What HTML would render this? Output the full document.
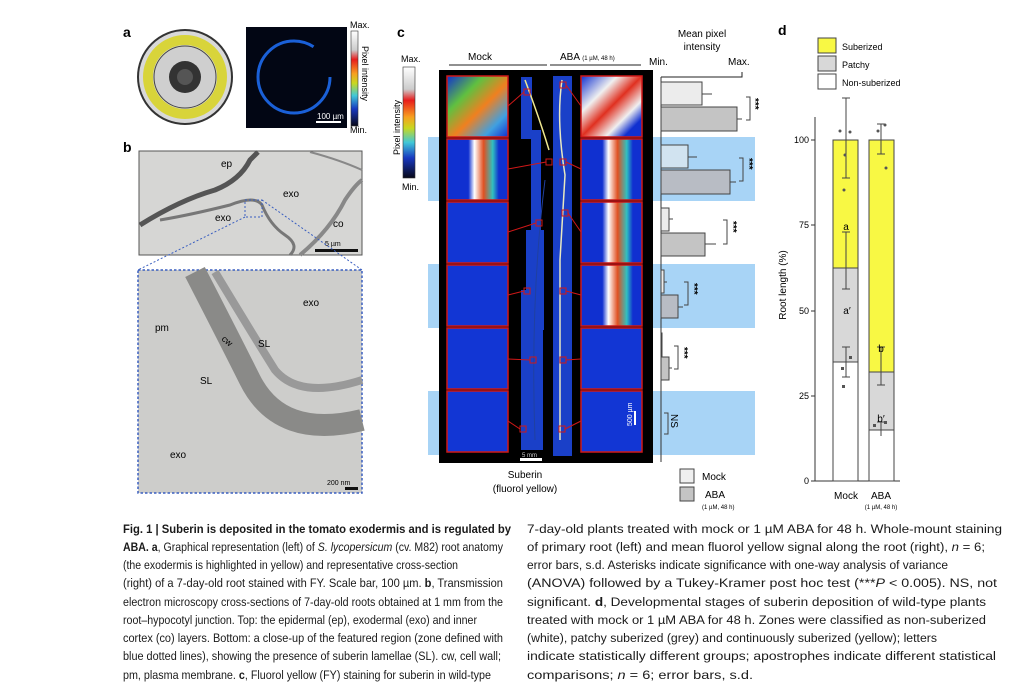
<!DOCTYPE html>
<html><head><meta charset="utf-8"><style>
html,body{margin:0;padding:0;background:#fff;}
svg{display:block;font-family:"Liberation Sans",sans-serif;}
</style></head><body>
<svg width="1024" height="699" viewBox="0 0 1024 699" xmlns="http://www.w3.org/2000/svg">
<defs>
<linearGradient id="cb" x1="0" y1="0" x2="0" y2="1">
<stop offset="0" stop-color="#fff"/><stop offset="0.2" stop-color="#ccc"/><stop offset="0.3" stop-color="#e81c1c"/><stop offset="0.45" stop-color="#f7a020"/><stop offset="0.55" stop-color="#c8d820"/><stop offset="0.68" stop-color="#40c8d8"/><stop offset="0.82" stop-color="#1838c0"/><stop offset="1" stop-color="#080818"/>
</linearGradient>
<linearGradient id="g0" x1="0" y1="0" x2="1" y2="1"><stop offset="0" stop-color="#1030d0"/><stop offset="0.3" stop-color="#60c040"/><stop offset="0.55" stop-color="#f08020"/><stop offset="0.8" stop-color="#40a0e0"/><stop offset="1" stop-color="#1030d0"/></linearGradient>
<linearGradient id="g1" x1="0" y1="0" x2="1" y2="0"><stop offset="0" stop-color="#1030d0"/><stop offset="0.35" stop-color="#1030d0"/><stop offset="0.45" stop-color="#fff"/><stop offset="0.6" stop-color="#e05020"/><stop offset="0.75" stop-color="#30c0c0"/><stop offset="0.85" stop-color="#1030d0"/></linearGradient>
<linearGradient id="g2" x1="0" y1="0" x2="1" y2="1"><stop offset="0" stop-color="#1030d0"/><stop offset="0.3" stop-color="#f0f0f0"/><stop offset="0.5" stop-color="#e03020"/><stop offset="0.7" stop-color="#f0f0f0"/><stop offset="0.85" stop-color="#1030d0"/></linearGradient>
</defs>

<!-- panel a -->
<text x="123" y="37" font-size="14" font-weight="bold">a</text>
<circle cx="185" cy="77" r="47" fill="#d8d8d8" stroke="#333" stroke-width="2"/>
<circle cx="185" cy="77" r="37" fill="none" stroke="#d8d43a" stroke-width="10"/>
<circle cx="185" cy="77" r="31" fill="#cfcfcf" stroke="#444"/>
<circle cx="185" cy="77" r="16" fill="#333"/>
<circle cx="185" cy="77" r="8" fill="#555"/>
<rect x="246" y="27" width="101" height="101" fill="#020614"/>
<ellipse cx="294" cy="77" rx="36" ry="36" fill="none" stroke="#1a60d8" stroke-width="3" stroke-dasharray="190 36"/>
<rect x="316" y="121" width="25" height="2" fill="#fff"/>
<text x="317" y="119" font-size="8" fill="#fff">100 µm</text>
<rect x="351" y="31" width="7" height="95" fill="url(#cb)" stroke="#333" stroke-width="0.6"/>
<text x="350" y="28" font-size="9">Max.</text>
<text x="350" y="133" font-size="9">Min.</text>
<text transform="translate(362,46) rotate(90)" font-size="9">Pixel intensity</text>

<!-- panel b -->
<text x="123" y="152" font-size="14" font-weight="bold">b</text>
<rect x="139" y="151" width="223" height="104" fill="#d6d6d4" stroke="#555"/>
<path d="M140 225 Q180 200 215 190 Q240 180 250 160 L258 152" stroke="#555" stroke-width="5" fill="none"/>
<path d="M160 220 Q190 215 230 205 Q255 195 262 205 Q270 225 285 235 Q300 245 290 255" stroke="#777" stroke-width="3" fill="none"/>
<path d="M300 255 Q330 230 345 200 Q355 185 362 180" stroke="#888" stroke-width="4" fill="none"/>
<path d="M310 152 Q340 160 362 170" stroke="#888" stroke-width="2" fill="none"/>
<text x="221" y="167" font-size="10">ep</text>
<text x="283" y="197" font-size="10">exo</text>
<text x="215" y="221" font-size="10">exo</text>
<text x="333" y="227" font-size="10">co</text>
<rect x="315" y="249" width="43" height="3" fill="#111"/>
<text x="325" y="246" font-size="7">5 µm</text>
<rect x="245" y="200" width="17" height="17" fill="none" stroke="#3a5fc0" stroke-dasharray="2 2"/>
<line x1="262" y1="200" x2="362" y2="270" stroke="#3a5fc0" stroke-dasharray="2 2"/>
<line x1="245" y1="217" x2="138" y2="270" stroke="#3a5fc0" stroke-dasharray="2 2"/>
<rect x="138" y="270" width="224" height="223" fill="#cdcdcb" stroke="#3a5fc0" stroke-dasharray="2.5 2" stroke-width="1.5"/>
<path d="M195 272 Q230 340 250 380 Q280 440 362 420" stroke="#8a8a88" stroke-width="22" fill="none"/>
<path d="M215 272 Q250 330 275 370 Q300 400 362 380" stroke="#999" stroke-width="8" fill="none"/>
<text x="155" y="331" font-size="10">pm</text>
<text x="222" y="343" font-size="9" transform="rotate(40 226 340)">cw</text>
<text x="258" y="347" font-size="10">SL</text>
<text x="200" y="384" font-size="10">SL</text>
<text x="303" y="306" font-size="10">exo</text>
<text x="170" y="458" font-size="10">exo</text>
<text x="327" y="485" font-size="7">200 nm</text>
<rect x="345" y="487" width="13" height="3" fill="#111"/>

<!-- panel c -->
<text x="397" y="37" font-size="14" font-weight="bold">c</text>
<rect x="403" y="67" width="12" height="111" fill="url(#cb)" stroke="#333" stroke-width="0.6"/>
<text x="401" y="62" font-size="9">Max.</text>
<text x="402" y="190" font-size="9">Min.</text>
<text transform="translate(400,155) rotate(-90)" font-size="9">Pixel intensity</text>
<rect x="428" y="137" width="327" height="64" fill="#a8d4f6"/>
<rect x="428" y="264" width="327" height="64" fill="#a8d4f6"/>
<rect x="428" y="391" width="327" height="64" fill="#a8d4f6"/>
<text x="480" y="60" font-size="10" text-anchor="middle">Mock</text>
<line x1="449" y1="65" x2="547" y2="65" stroke="#222"/>
<text x="560" y="60" font-size="10">ABA <tspan font-size="6">(1 µM, 48 h)</tspan></text>
<line x1="550" y1="65" x2="641" y2="65" stroke="#222"/>
<rect x="439" y="70" width="214" height="393" fill="#000"/>
<rect x="521" y="77" width="11" height="62" fill="#1a40c8"/>
<rect x="531" y="130" width="10" height="110" fill="#1a40c8"/>
<rect x="526" y="230" width="18" height="100" fill="#1a40c8"/>
<rect x="521" y="290" width="22" height="160" fill="#1a40c8"/>
<rect x="553" y="76" width="19" height="380" fill="#1a40c8"/>
<path d="M525 80 Q540 120 549 150" stroke="#f0e890" stroke-width="1.5" fill="none"/>
<path d="M562 80 Q556 120 565 175 L560 260 L560 440" stroke="#e8e8c0" stroke-width="1.5" fill="none"/>
<path d="M545 180 Q530 300 535 440" stroke="#2040a0" stroke-width="1" fill="none"/>
<g stroke="#d01818" stroke-width="1.5">
<rect x="447" y="76" width="61" height="61" fill="url(#g0)"/>
<rect x="447" y="139" width="61" height="61" fill="url(#g1)"/>
<rect x="447" y="202" width="61" height="61" fill="#1236d4"/>
<rect x="447" y="265" width="61" height="61" fill="#1236d4"/>
<rect x="447" y="328" width="61" height="61" fill="#1236d4"/>
<rect x="447" y="391" width="61" height="61" fill="#1236d4"/>
<rect x="581" y="76" width="61" height="61" fill="url(#g2)"/>
<rect x="581" y="139" width="61" height="61" fill="url(#g1)"/>
<rect x="581" y="202" width="61" height="61" fill="url(#g1)"/>
<rect x="581" y="265" width="61" height="61" fill="url(#g1)"/>
<rect x="581" y="328" width="61" height="61" fill="#1236d4"/>
<rect x="581" y="391" width="61" height="61" fill="#1236d4"/>
<g fill="none" stroke-width="1">
<rect x="524" y="89" width="6" height="6"/><rect x="546" y="159" width="6" height="6"/><rect x="536" y="220" width="6" height="6"/><rect x="524" y="288" width="6" height="6"/><rect x="530" y="357" width="6" height="6"/><rect x="520" y="426" width="6" height="6"/>
<rect x="560" y="82" width="6" height="6"/><rect x="560" y="159" width="6" height="6"/><rect x="562" y="210" width="6" height="6"/><rect x="560" y="288" width="6" height="6"/><rect x="560" y="357" width="6" height="6"/><rect x="559" y="426" width="6" height="6"/>
<path d="M508 106 L524 92 M508 169 L546 162 M508 232 L536 223 M508 295 L524 291 M508 359 L530 360 M508 421 L520 429"/>
<path d="M566 85 L581 106 M566 162 L581 169 M568 213 L581 232 M566 291 L581 295 M566 360 L581 359 M565 429 L581 421"/>
</g></g>
<rect x="634" y="411" width="2" height="14" fill="#fff"/>
<text transform="translate(632,426) rotate(-90)" font-size="7" fill="#fff">500 µm</text>
<rect x="520" y="458" width="22" height="3" fill="#fff"/>
<text x="522" y="457" font-size="6" fill="#ccc">5 mm</text>
<text x="525" y="478" font-size="10" text-anchor="middle">Suberin</text>
<text x="525" y="492" font-size="10" text-anchor="middle">(fluorol yellow)</text>
<text x="702" y="37" font-size="10" text-anchor="middle">Mean pixel</text>
<text x="702" y="50" font-size="10" text-anchor="middle">intensity</text>
<text x="649" y="65" font-size="10">Min.</text>
<text x="728" y="65" font-size="10">Max.</text>
<path d="M661 77 L742 77 L742 72" stroke="#222" fill="none"/>
<line x1="661" y1="77" x2="661" y2="462" stroke="#333"/>
<g stroke="#444" stroke-width="1">
<rect x="661" y="82" width="41" height="23" fill="#ececec"/><rect x="661" y="107" width="76" height="24" fill="#c4c4c4"/>
<rect x="661" y="145" width="27" height="23" fill="#ececec" fill-opacity="0.6"/><rect x="661" y="170" width="69" height="24" fill="#b8bcc4"/>
<rect x="661" y="208" width="8" height="23" fill="#ececec"/><rect x="661" y="233" width="44" height="23" fill="#c4c4c4"/>
<rect x="661" y="270" width="3" height="23" fill="#ececec"/><rect x="661" y="295" width="17" height="23" fill="#b8bcc4"/>
<rect x="661" y="333" width="1" height="23" fill="#ececec"/><rect x="661" y="357" width="8" height="23" fill="#c4c4c4"/>
<path d="M702 94 H712 M737 119 H742 M688 157 H697 M730 182 H736 M669 219 H673 M705 244 H716 M664 282 H667 M678 307 H683 M669 368 H672" fill="none"/>
<path d="M746 97 H750 V120 H746 M739 158 H743 V181 H739 M723 220 H727 V244 H723 M684 282 H688 V305 H684 M674 346 H678 V369 H674 M664 413 H668 V434 H664" fill="none"/>
</g>
<g font-size="10" font-weight="bold">
<text transform="translate(752,98) rotate(90)">***</text>
<text transform="translate(746,158) rotate(90)">***</text>
<text transform="translate(730,221) rotate(90)">***</text>
<text transform="translate(691,283) rotate(90)">***</text>
<text transform="translate(681,347) rotate(90)">***</text>
</g>
<text transform="translate(671,414) rotate(90)" font-size="10">NS</text>
<rect x="680" y="469" width="14" height="14" fill="#efefef" stroke="#444"/>
<rect x="680" y="487" width="14" height="14" fill="#c4c4c4" stroke="#444"/>
<text x="702" y="480" font-size="10">Mock</text>
<text x="705" y="498" font-size="10">ABA</text>
<text x="702" y="509" font-size="6">(1 µM, 48 h)</text>

<!-- panel d -->
<text x="778" y="35" font-size="14" font-weight="bold">d</text>
<rect x="818" y="38" width="18" height="15" fill="#f8f844" stroke="#444"/>
<rect x="818" y="56" width="18" height="15" fill="#d8d8d8" stroke="#444"/>
<rect x="818" y="74" width="18" height="15" fill="#fff" stroke="#444"/>
<text x="842" y="50" font-size="9">Suberized</text>
<text x="842" y="68" font-size="9">Patchy</text>
<text x="842" y="86" font-size="9">Non-suberized</text>
<line x1="815" y1="117" x2="815" y2="481" stroke="#333"/>
<line x1="815" y1="481" x2="900" y2="481" stroke="#333"/>
<g stroke="#333"><line x1="811" y1="140" x2="815" y2="140"/><line x1="811" y1="225" x2="815" y2="225"/><line x1="811" y1="311" x2="815" y2="311"/><line x1="811" y1="396" x2="815" y2="396"/><line x1="811" y1="481" x2="815" y2="481"/></g>
<g font-size="9" text-anchor="end"><text x="809" y="143">100</text><text x="809" y="228">75</text><text x="809" y="314">50</text><text x="809" y="399">25</text><text x="809" y="484">0</text></g>
<text transform="translate(786,285) rotate(-90)" font-size="10" text-anchor="middle">Root length (%)</text>
<g stroke="#444">
<rect x="833" y="140" width="25" height="128" fill="#f8f844"/>
<rect x="833" y="268" width="25" height="94" fill="#d8d8d8"/>
<rect x="833" y="362" width="25" height="119" fill="#fff"/>
<rect x="869" y="140" width="25" height="232" fill="#f8f844"/>
<rect x="869" y="372" width="25" height="58" fill="#d8d8d8"/>
<rect x="869" y="430" width="25" height="51" fill="#fff"/>
<path d="M846 98 V178 M842 98 H850 M842 178 H850 M846 232 V289 M842 232 H850 M842 289 H850 M846 347 V377 M842 347 H850 M842 377 H850 M881 124 V154 M877 124 H885 M877 154 H885 M881 347 V385 M877 347 H885 M877 385 H885 M881 422 V436 M877 422 H885" fill="none"/>
</g>
<g fill="#555"><circle cx="840" cy="131" r="1.5"/><circle cx="845" cy="155" r="1.5"/><circle cx="844" cy="190" r="1.5"/><circle cx="850" cy="132" r="1.5"/><circle cx="878" cy="131" r="1.5"/><circle cx="885" cy="125" r="1.5"/><circle cx="886" cy="168" r="1.5"/><rect x="849" y="356" width="3" height="3"/><rect x="841" y="367" width="3" height="3"/><rect x="842" y="385" width="3" height="3"/><rect x="873" y="424" width="3" height="3"/><rect x="884" y="421" width="3" height="3"/></g>
<text x="846" y="230" font-size="10" text-anchor="middle">a</text>
<text x="847" y="314" font-size="10" text-anchor="middle">a′</text>
<text x="881" y="352" font-size="10" text-anchor="middle">b</text>
<text x="881" y="422" font-size="10" text-anchor="middle">b′</text>
<text x="846" y="499" font-size="10" text-anchor="middle">Mock</text>
<text x="881" y="499" font-size="10" text-anchor="middle">ABA</text>
<text x="881" y="509" font-size="6" text-anchor="middle">(1 µM, 48 h)</text>

<!-- caption -->
<g font-size="12.3" fill="#1a1a1a">
<text x="123" y="533" textLength="388" lengthAdjust="spacingAndGlyphs" font-weight="bold">Fig. 1 | Suberin is deposited in the tomato exodermis and is regulated by</text>
<text x="123" y="551" textLength="380" lengthAdjust="spacingAndGlyphs"><tspan font-weight="bold">ABA. a</tspan>, Graphical representation (left) of <tspan font-style="italic">S. lycopersicum</tspan> (cv. M82) root anatomy</text>
<text x="123" y="569" textLength="335" lengthAdjust="spacingAndGlyphs">(the exodermis is highlighted in yellow) and representative cross-section</text>
<text x="123" y="587" textLength="380" lengthAdjust="spacingAndGlyphs">(right) of a 7-day-old root stained with FY. Scale bar, 100 µm. <tspan font-weight="bold">b</tspan>, Transmission</text>
<text x="123" y="606" textLength="380" lengthAdjust="spacingAndGlyphs">electron microscopy cross-sections of 7-day-old roots obtained at 1 mm from the</text>
<text x="123" y="624" textLength="354" lengthAdjust="spacingAndGlyphs">root–hypocotyl junction. Top: the epidermal (ep), exodermal (exo) and inner</text>
<text x="123" y="642" textLength="380" lengthAdjust="spacingAndGlyphs">cortex (co) layers. Bottom: a close-up of the featured region (zone defined with</text>
<text x="123" y="660" textLength="378" lengthAdjust="spacingAndGlyphs">blue dotted lines), showing the presence of suberin lamellae (SL). cw, cell wall;</text>
<text x="123" y="679" textLength="368" lengthAdjust="spacingAndGlyphs">pm, plasma membrane. <tspan font-weight="bold">c</tspan>, Fluorol yellow (FY) staining for suberin in wild-type</text>
<text x="527" y="533" textLength="475" lengthAdjust="spacingAndGlyphs">7-day-old plants treated with mock or 1 µM ABA for 48 h. Whole-mount staining</text>
<text x="527" y="551" textLength="458" lengthAdjust="spacingAndGlyphs">of primary root (left) and mean fluorol yellow signal along the root (right), <tspan font-style="italic">n</tspan> = 6;</text>
<text x="527" y="569" textLength="421" lengthAdjust="spacingAndGlyphs">error bars, s.d. Asterisks indicate significance with one-way analysis of variance</text>
<text x="527" y="587" textLength="470" lengthAdjust="spacingAndGlyphs">(ANOVA) followed by a Tukey-Kramer post hoc test (***<tspan font-style="italic">P</tspan> &lt; 0.005). NS, not</text>
<text x="527" y="606" textLength="459" lengthAdjust="spacingAndGlyphs">significant. <tspan font-weight="bold">d</tspan>, Developmental stages of suberin deposition of wild-type plants</text>
<text x="527" y="624" textLength="459" lengthAdjust="spacingAndGlyphs">treated with mock or 1 µM ABA for 48 h. Zones were classified as non-suberized</text>
<text x="527" y="642" textLength="410" lengthAdjust="spacingAndGlyphs">(white), patchy suberized (grey) and continuously suberized (yellow); letters</text>
<text x="527" y="660" textLength="469" lengthAdjust="spacingAndGlyphs">indicate statistically different groups; apostrophes indicate different statistical</text>
<text x="527" y="679" textLength="226" lengthAdjust="spacingAndGlyphs">comparisons; <tspan font-style="italic">n</tspan> = 6; error bars, s.d.</text>
</g>
</svg>
</body></html>
